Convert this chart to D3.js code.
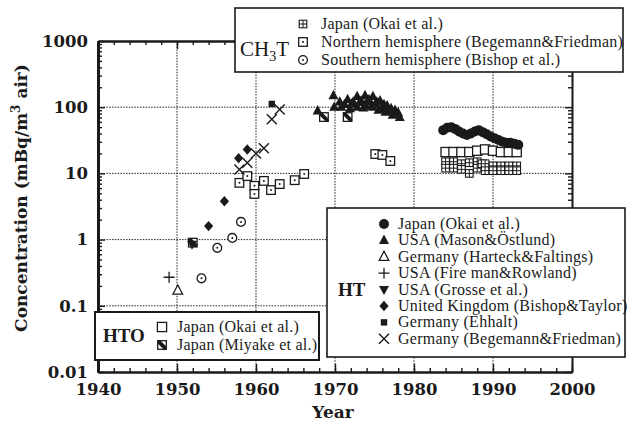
<!DOCTYPE html>
<html>
<head>
<meta charset="utf-8">
<title>Tritium concentration</title>
<script src="https://cdnjs.cloudflare.com/ajax/libs/d3/7.8.5/d3.min.js"></script>
<style>
body { margin: 0; background: #fff; }
</style>
</head>
<body>
<script>

// ---- data: [year, mBq/m3 air] ----

// HT
var htJapanOkai = [[1983.7,45],[1984.2,49],[1984.7,50],[1985.2,47],[1985.7,43],[1986.2,40],[1986.7,38],
  [1987.2,40],[1987.7,43],[1988.2,45],[1988.7,42],[1989.2,39],[1989.7,36],[1990.2,34],[1990.7,32],
  [1991.2,30],[1991.7,29],[1992.2,29],[1992.7,28],[1993.2,27]]
var htUsaMason = [[1967.8,88],[1969.8,150],[1969.9,100],[1970.6,120],[1970.8,100],[1971.2,110],[1971.6,130],
  [1971.9,95],[1972.1,112],[1972.3,120],[1972.8,145],[1972.8,100],[1973.1,118],[1973.3,125],[1973.6,98],
  [1973.8,150],[1973.8,108],[1974.1,122],[1974.3,130],[1974.6,104],[1974.8,145],[1974.8,100],[1975.1,112],
  [1975.3,120],[1975.5,90],[1975.7,125],[1975.9,95],[1976.2,110],[1976.4,84],[1976.6,105],[1976.8,88],
  [1977.1,95],[1977.3,76],[1977.6,90],[1977.7,78],[1978.0,82],[1978.2,70]]
var htGermanyHarteck = [[1950.1,0.17]]
var htUsaFireman = [[1949.0,0.27]]
var htUsaGrosse = [[1951.9,0.85]]
var htUkBishop = [[1954.0,1.6],[1956.0,3.8],[1957.8,17],[1958.9,23]]
var htGermanyEhhalt = [[1962.0,112]]
var htGermanyBegemann = [[1957.9,11.5],[1958.9,14.5],[1960.0,20],[1961.0,24],[1962.0,66],[1963.0,92]]

// HTO
var htoJapanOkai = [[1984,21],[1985,21],[1986,21],[1987,21],[1988,22],[1989,23],[1990,22],[1991,21],[1992,21],[1993,21]]
var htoJapanMiyake = [[1952.0,0.9],[1968.6,71],[1971.6,71]]

// CH3T
var ch3tJapanOkai = [[1984,15],[1984,12],[1985,15],[1985,12],[1986,14],[1986,11.5],[1987,14.5],[1987,10],
  [1988,15],[1988,12],[1988.6,14],[1989,14],[1989,11],[1990,13],[1990,11],[1991,13],[1991,11],
  [1992,13],[1992,11],[1993,13],[1993,11]]
var ch3tNorthern = [[1957.9,7.2],[1958.9,9.1],[1959.8,6.5],[1959.8,4.9],[1961.0,7.7],[1961.9,5.6],
  [1963.0,6.9],[1964.9,7.9],[1966.1,9.8],[1975.1,19.6],[1976.0,19],[1977.0,15.4]]
var ch3tSouthern = [[1953.1,0.26],[1955.1,0.75],[1957.0,1.06],[1958.1,1.85]]

// axes
var yearTicks = [1940,1950,1960,1970,1980,1990,2000]
var yearMinor = d3.range(1940, 2001, 2)
var concTicks = [0.01,0.1,1,10,100,1000]
var concLabels = ["0.01","0.1","1","10","100","1000"]

// legend tables
var ch3tLegend = [
  {name:"Japan (Okai et al.)", sym:"sqPlus", data:ch3tJapanOkai},
  {name:"Northern hemisphere (Begemann&Friedman)", sym:"sqDot", data:ch3tNorthern},
  {name:"Southern hemisphere (Bishop et al.)", sym:"circDot", data:ch3tSouthern}
]
var htLegend = [
  {name:"Japan (Okai et al.)", sym:"dot", data:htJapanOkai},
  {name:"USA (Mason&Östlund)", sym:"triUp", data:htUsaMason},
  {name:"Germany (Harteck&Faltings)", sym:"triOpen", data:htGermanyHarteck},
  {name:"USA (Fire man&Rowland)", sym:"plus", data:htUsaFireman},
  {name:"USA (Grosse et al.)", sym:"triDown", data:htUsaGrosse},
  {name:"United Kingdom (Bishop&Taylor)", sym:"diamond", data:htUkBishop},
  {name:"Germany (Ehhalt)", sym:"sqFill", data:htGermanyEhhalt},
  {name:"Germany (Begemann&Friedman)", sym:"cross", data:htGermanyBegemann}
]
var htoLegend = [
  {name:"Japan (Okai et al.)", sym:"sq", data:htoJapanOkai},
  {name:"Japan (Miyake et al.)", sym:"sqHatch", data:htoJapanMiyake}
]

var W = 627, H = 426
var ink = "#1a1a1a"
var tickFont = "'DejaVu Serif', serif"
var textFont = "'Liberation Serif', 'Times New Roman', serif"

var svg = d3.select("body").append("svg")
    .attr("width", W)
    .attr("height", H)
    .style("background", "#fff")

var x = d3.scaleLinear().domain([1940, 2000]).range([98, 572])
var y = d3.scaleLog().domain([0.01, 1000]).range([372, 41])

// dotted grid
var grid = svg.append("g").attr("stroke", "#222").attr("stroke-width", 1).attr("stroke-dasharray", "1.5,1.3")
grid.selectAll(".gx").data(yearTicks.slice(1, -1)).enter().append("line")
    .attr("x1", function(d){ return x(d) }).attr("x2", function(d){ return x(d) })
    .attr("y1", y(1000)).attr("y2", y(0.01))
grid.selectAll(".gy").data(concTicks.slice(1, -1)).enter().append("line")
    .attr("y1", function(d){ return y(d) }).attr("y2", function(d){ return y(d) })
    .attr("x1", x(1940)).attr("x2", x(2000))

// minor log ticks 2..9 per decade
var logMinor = []
concTicks.slice(0, -1).forEach(function(t){
  for (var k = 2; k <= 9; k++) logMinor.push(t * k)
})

function styleAxis(g, w) {
  g.select(".domain").attr("stroke", ink).attr("stroke-width", w)
  g.selectAll(".tick line").attr("stroke", ink).attr("stroke-width", 1.4)
}

// minor ticks first
svg.append("g").attr("transform", "translate(0," + y(0.01) + ")")
    .call(d3.axisBottom(x).tickValues(yearMinor).tickSize(-4).tickSizeOuter(0).tickFormat(""))
    .call(styleAxis, 2)
svg.append("g").attr("transform", "translate(0," + y(1000) + ")")
    .call(d3.axisTop(x).tickValues(yearMinor).tickSize(-4).tickSizeOuter(0).tickFormat(""))
    .call(styleAxis, 2)
svg.append("g").attr("transform", "translate(" + x(1940) + ",0)")
    .call(d3.axisLeft(y).tickValues(logMinor).tickSize(-4).tickSizeOuter(0).tickFormat(""))
    .call(styleAxis, 3)
svg.append("g").attr("transform", "translate(" + x(2000) + ",0)")
    .call(d3.axisRight(y).tickValues(logMinor).tickSize(-4).tickSizeOuter(0).tickFormat(""))
    .call(styleAxis, 1.6)

// major ticks + labels
var xAxis = svg.append("g").attr("transform", "translate(0," + y(0.01) + ")")
    .call(d3.axisBottom(x).tickValues(yearTicks).tickSize(-8).tickSizeOuter(0).tickPadding(11)
      .tickFormat(d3.format("d")))
    .call(styleAxis, 2)
svg.append("g").attr("transform", "translate(0," + y(1000) + ")")
    .call(d3.axisTop(x).tickValues(yearTicks).tickSize(-8).tickSizeOuter(0).tickFormat(""))
    .call(styleAxis, 2)
var yAxis = svg.append("g").attr("transform", "translate(" + x(1940) + ",0)")
    .call(d3.axisLeft(y).tickValues(concTicks).tickSize(-7).tickSizeOuter(0).tickPadding(10)
      .tickFormat(function(d, i){ return concLabels[i] }))
    .call(styleAxis, 3)
svg.append("g").attr("transform", "translate(" + x(2000) + ",0)")
    .call(d3.axisRight(y).tickValues(concTicks).tickSize(-7).tickSizeOuter(0).tickFormat(""))
    .call(styleAxis, 1.6)

svg.selectAll(".tick text")
    .attr("fill", ink)
    .style("font-family", tickFont)
    .style("font-weight", "bold")
    .style("font-size", "16.5px")

// symbols
function drawSymbol(g, sym) {
  if (sym == "dot") {
    g.append("circle").attr("r", 5).attr("fill", ink)
  } else if (sym == "triUp") {
    g.append("path").attr("d", "M0,-5.8L5,3.6L-5,3.6Z").attr("fill", ink)
  } else if (sym == "triOpen") {
    g.append("path").attr("d", "M0,-5.5L4.8,3.5L-4.8,3.5Z").attr("fill", "#fff").attr("stroke", ink).attr("stroke-width", 1.3)
  } else if (sym == "plus") {
    g.append("path").attr("d", "M-5.5,0H5.5M0,-5.5V5.5").attr("stroke", ink).attr("stroke-width", 1.3)
  } else if (sym == "triDown") {
    g.append("path").attr("d", "M0,5.5L5,-3.5L-5,-3.5Z").attr("fill", ink)
  } else if (sym == "diamond") {
    g.append("path").attr("d", "M0,-5.2L4.6,0L0,5.2L-4.6,0Z").attr("fill", ink)
  } else if (sym == "sqFill") {
    g.append("rect").attr("x", -3.2).attr("y", -3.2).attr("width", 6.4).attr("height", 6.4).attr("fill", ink)
  } else if (sym == "cross") {
    g.append("path").attr("d", "M-5,-5L5,5M-5,5L5,-5").attr("stroke", ink).attr("stroke-width", 1.4)
  } else if (sym == "sq") {
    g.append("rect").attr("x", -4.6).attr("y", -4.6).attr("width", 9.2).attr("height", 9.2)
      .attr("fill", "#fff").attr("stroke", ink).attr("stroke-width", 1.3)
  } else if (sym == "sqHatch") {
    g.append("rect").attr("x", -4.3).attr("y", -4.3).attr("width", 8.6).attr("height", 8.6)
      .attr("fill", "#fff").attr("stroke", ink).attr("stroke-width", 1.3)
    g.append("path").attr("d", "M-4.3,-4.3L-1.5,-4.3L4.3,1.5L4.3,4.3L1.5,4.3L-4.3,-1.5Z").attr("fill", ink)
  } else if (sym == "sqDot") {
    g.append("rect").attr("x", -4.3).attr("y", -4.3).attr("width", 8.6).attr("height", 8.6)
      .attr("fill", "#fff").attr("stroke", ink).attr("stroke-width", 1.3)
    g.append("circle").attr("r", 1).attr("fill", ink)
  } else if (sym == "sqPlus") {
    g.append("rect").attr("x", -3.8).attr("y", -3.8).attr("width", 7.6).attr("height", 7.6)
      .attr("fill", "#fff").attr("stroke", ink).attr("stroke-width", 1.1)
    g.append("path").attr("d", "M-3.8,0H3.8M0,-3.8V3.8").attr("stroke", ink).attr("stroke-width", 1)
  } else if (sym == "circDot") {
    g.append("circle").attr("r", 4.4).attr("fill", "#fff").attr("stroke", ink).attr("stroke-width", 1.3)
    g.append("circle").attr("r", 1).attr("fill", ink)
  }
}

function plotSeries(series) {
  svg.append("g").selectAll("g").data(series.data).enter().append("g")
    .attr("transform", function(d){ return "translate(" + x(d[0]) + "," + y(d[1]) + ")" })
    .each(function(){ drawSymbol(d3.select(this), series.sym) })
}

// draw order: CH3T, HTO, then HT on top
ch3tLegend.forEach(plotSeries)
htoLegend.forEach(plotSeries)
htLegend.slice().reverse().forEach(plotSeries)

// legend boxes
function legendBox(bx, by, bw, bh, sw) {
  return svg.append("rect").attr("x", bx).attr("y", by).attr("width", bw).attr("height", bh)
    .attr("fill", "#fff").attr("stroke", ink).attr("stroke-width", sw)
}
function legendRows(items, sx, tx, y0, dy) {
  items.forEach(function(it, i){
    var g = svg.append("g").attr("transform", "translate(" + sx + "," + (y0 + i * dy) + ")")
    drawSymbol(g, it.sym)
    svg.append("text").attr("x", tx).attr("y", y0 + i * dy + 5)
      .attr("fill", ink)
      .style("font-family", textFont).style("font-size", "16px").style("letter-spacing", "0.25px")
      .text(it.name)
  })
}

// CH3T
legendBox(235, 8, 388, 64, 1.6)
var ch3t = svg.append("text").attr("x", 240).attr("y", 56).attr("fill", ink)
    .style("font-family", textFont).style("font-size", "21px")
ch3t.append("tspan").text("CH")
ch3t.append("tspan").attr("dy", 5).style("font-size", "14px").text("3")
ch3t.append("tspan").attr("dy", -5).text("T")
legendRows(ch3tLegend, 303, 321, 24, 18)

// HT
legendBox(327, 208, 298, 149, 1.6)
svg.append("text").attr("x", 338).attr("y", 296).attr("fill", ink)
    .style("font-family", textFont).style("font-size", "19px").style("font-weight", "bold").text("HT")
legendRows(htLegend, 384, 398, 224, 16.4)

// HTO
legendBox(95, 312, 224, 48, 2)
svg.append("text").attr("x", 103).attr("y", 342).attr("fill", ink)
    .style("font-family", textFont).style("font-size", "19px").style("font-weight", "bold").text("HTO")
legendRows(htoLegend, 162, 177, 327, 18)

// axis titles
svg.append("text").attr("x", 333).attr("y", 418).attr("text-anchor", "middle").attr("fill", ink)
    .style("font-family", tickFont).style("font-size", "17px").style("font-weight", "bold").text("Year")

var yt = svg.append("text")
    .attr("transform", "translate(27,198) rotate(-90)")
    .attr("text-anchor", "middle").attr("fill", ink)
    .style("font-family", tickFont).style("font-size", "17px").style("font-weight", "bold")
yt.append("tspan").text("Concentration (mBq/m")
yt.append("tspan").attr("dy", -7).style("font-size", "12px").text("3")
yt.append("tspan").attr("dy", 7).text(" air)")

</script>
</body>
</html>
